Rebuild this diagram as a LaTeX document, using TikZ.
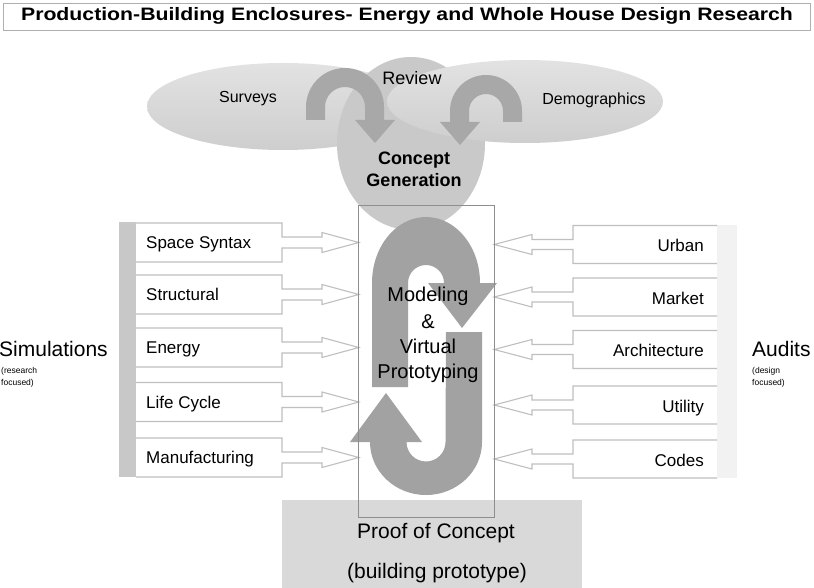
\documentclass[tikz,border=0pt]{standalone}
\usepackage{fontspec}
\usepackage{graphicx}
\setmainfont{Liberation Sans}
\usetikzlibrary{shapes.geometric}
\definecolor{boxline}{HTML}{BFBFBF}
\definecolor{rectline}{HTML}{8E8E8E}
\definecolor{arrowgray}{HTML}{A2A2A2}
\definecolor{topgray}{HTML}{A8A8A8}
\definecolor{elltop}{HTML}{E2E2E2}
\definecolor{ellbot}{HTML}{CECECE}
\definecolor{circfill}{HTML}{C9C9C9}
\definecolor{proofgray}{HTML}{D9D9D9}
\definecolor{leftbar}{HTML}{C8C8C8}
\definecolor{rightbar}{HTML}{F2F2F2}
\definecolor{titleline}{HTML}{B0B0B0}
\newcommand{\fsz}[1]{\fontsize{#1}{#1}\selectfont}
\tikzset{
  lbl/.style={font=\fsz{17}, inner sep=0, anchor=base west},
  rlbl/.style={font=\fsz{17}, inner sep=0, anchor=base east},
  sidebox/.style={draw=boxline, line width=1.1pt, line join=miter},
  txt/.style={inner sep=0, anchor=base},
  ellshape/.style={ellipse, inner sep=0, top color=elltop, bottom color=ellbot},
}
\begin{document}
\begin{tikzpicture}[x=1pt,y=-1pt]
\useasboundingbox (0,0) rectangle (814,588);
\fill[white] (0,0) rectangle (814,588);

% title
\node[draw=titleline, line width=0.8pt, minimum width=807pt, minimum height=27pt, inner sep=0] (titlebox) at (406.5,16.5) {};
\node[txt] (title) at (407,21) {\scalebox{1.18}[1]{\fsz{18}\bfseries Production-Building Enclosures- Energy and Whole House Design Research}};

% review area
\node[ellshape, minimum width=272pt, minimum height=87pt] (surv) at (283,106.5) {};
\node[ellipse, inner sep=0, fill=circfill, minimum width=148pt, minimum height=173pt] (cg) at (411,143.5) {};
\node[ellshape, minimum width=276pt, minimum height=83pt] (demo) at (525,101.5) {};

% proof of concept
\node[fill=proofgray, minimum width=300pt, minimum height=100pt, inner sep=0, anchor=north west] (proof) at (282,500) {};

% central rect (drawn later)
\node[minimum width=135pt, minimum height=311pt, inner sep=0] (mv) at (426.5,361.5) {};

% bars
\fill[leftbar] (119,222) rectangle (136,477);
\fill[rightbar] (717,225) rectangle (737,478);

% left boxes
\foreach \m/\t/\nm in {242.5/Space Syntax/s1, 294.5/Structural/s2, 347.5/Energy/s3, 402/Life Cycle/s4, 457.5/Manufacturing/s5}{
  \node[lbl] (\nm) at (146,\m+6) {\t};
  \coordinate (\nm tip) at (mv.west |- 0,\m);
  \draw[sidebox] (136,\m-19.5) -- (282,\m-19.5) -- (282,\m-5.5) -- (322,\m-5.5) -- (322,\m-10) -- (\nm tip) -- (322,\m+10) -- (322,\m+5.5) -- (282,\m+5.5) -- (282,\m+19.5) -- (136,\m+19.5);
}
% right boxes
\foreach \m/\t/\nm in {244.5/Urban/a1, 297/Market/a2, 349.5/Architecture/a3, 405/Utility/a4, 459/Codes/a5}{
  \node[rlbl] (\nm) at (704,\m+7) {\t};
  \coordinate (\nm tip) at (mv.east |- 0,\m);
  \draw[sidebox] (717,\m-19) -- (573,\m-19) -- (573,\m-5) -- (532,\m-5) -- (532,\m-10) -- (\nm tip) -- (532,\m+10) -- (532,\m+5) -- (573,\m+5) -- (573,\m+19) -- (717,\m+19);
}

% top curved arrows
\fill[topgray] (306,120) -- (306,107) arc[start angle=180, end angle=360, radius=39] -- (384,120) -- (395,120) -- (375,143) -- (355,120) -- (365,120) -- (365,107) arc[start angle=360, end angle=180, radius=20] -- (325,120) -- cycle;
\fill[topgray] (522,122) -- (522,111) arc[start angle=0, end angle=-180, radius=36] -- (450,122) -- (440,122) -- (460,145) -- (480,122) -- (469,122) -- (469,111) arc[start angle=180, end angle=360, radius=17] -- (503,122) -- cycle;

% S arrows
\fill[arrowgray] (372,387) -- (372,283) arc[start angle=180, end angle=360, x radius=54, y radius=66] -- (480,283) -- (497,283) -- (462,328) -- (428,283) -- (444,283) arc[start angle=360, end angle=180, radius=18] -- (408,387) -- cycle;
\fill[arrowgray] (446,332) -- (482,332) -- (482,442) arc[start angle=0, end angle=180, x radius=56, y radius=53] -- (350,442) -- (386,393) -- (422,442) -- (406.5,442) arc[start angle=180, end angle=0, radius=19.5] -- cycle;

\draw[rectline, line width=0.8pt] (mv.north west) rectangle (mv.south east);

% texts
\node[txt, font=\fsz{18}] (review) at (412,85) {Review};
\node[txt, font=\fsz{16}] (survt) at (248,103) {Surveys};
\node[txt, font=\fsz{16}] (demot) at (594,105) {Demographics};
\node[txt, font=\fsz{18}\bfseries] (cg1) at (414,165) {Concept};
\node[txt, font=\fsz{18}\bfseries] (cg2) at (414,186.5) {Generation};
\node[txt, font=\fsz{20}] (m1) at (428,301) {Modeling};
\node[txt, font=\fsz{20}] (m2) at (428,328) {\&};
\node[txt, font=\fsz{20}] (m3) at (428,353) {Virtual};
\node[txt, font=\fsz{20}] (m4) at (428,378) {Prototyping};
\node[txt, anchor=base west, font=\fsz{21}] (sim) at (-1,356) {Simulations};
\node[txt, anchor=base west, font=\fsz{8.5}] (sim1) at (1,373) {(research};
\node[txt, anchor=base west, font=\fsz{8.5}] (sim2) at (1,385.5) {focused)};
\node[txt, anchor=base west, font=\fsz{21}] (aud) at (752,356.5) {Audits};
\node[txt, anchor=base west, font=\fsz{8.5}] (aud1) at (752,373) {(design};
\node[txt, anchor=base west, font=\fsz{8.5}] (aud2) at (752,385) {focused)};
\node[txt, font=\fsz{21}] (p1) at (436,538) {Proof of Concept};
\node[txt, font=\fsz{21}] (p2) at (437,578) {(building prototype)};
\end{tikzpicture}
\end{document}
